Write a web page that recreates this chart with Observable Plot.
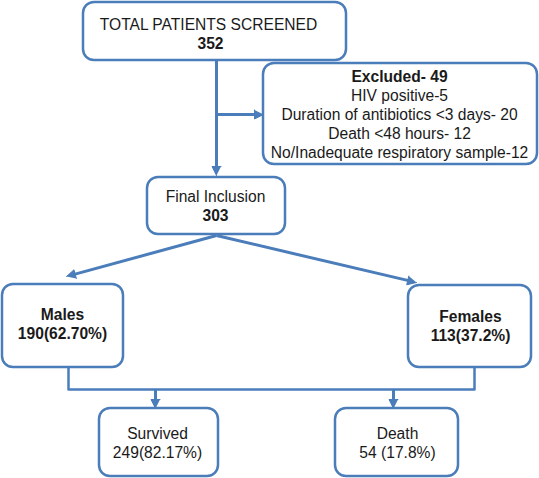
<!DOCTYPE html>
<html>
<head>
<meta charset="utf-8">
<script src="https://cdn.jsdelivr.net/npm/d3@7"></script>
<script src="https://cdn.jsdelivr.net/npm/@observablehq/plot@0.6"></script>
<style>
  html, body { margin: 0; padding: 0; background: #ffffff; }
  #chart svg { display: block; }
</style>
</head>
<body>
<div id="chart"></div>
<script>
// ---- Data (text content of the flow chart) ----
const nodeIds = ["screened", "excluded", "included", "males", "females", "survived", "death"];
const nodeHeadings = ["TOTAL PATIENTS SCREENED", "Excluded- 49", "Final Inclusion", "Males", "Females", "Survived", "Death"];
const nodeValues = ["352", null, "303", "190(62.70%)", "113(37.2%)", "249(82.17%)", "54 (17.8%)"];
const exclusionLabels = ["HIV positive-5", "Duration of antibiotics <3 days- 20", "Death <48 hours- 12", "No/Inadequate respiratory sample-12"];
const headingBold = [false, true, false, true, true, false, false];
const valueBold = [true, false, true, true, true, false, false];

// ---- Layout (diagram geometry, in pixel units of the plot's x/y scales) ----
const W = 539, H = 478;
const boxLayout = {
  screened: {x1: 83, x2: 346, y1: 2, y2: 60, tx: [208, 210], ty: 24},
  excluded: {x1: 263, x2: 537, y1: 63, y2: 164, tx: [399, 399], ty: 76},
  included: {x1: 147, x2: 285, y1: 177, y2: 234, tx: [215, 215], ty: 196},
  males:    {x1: 2, x2: 123, y1: 284, y2: 367, tx: [62, 62], ty: 314},
  females:  {x1: 408, x2: 531, y1: 285, y2: 367, tx: [470, 470], ty: 316},
  survived: {x1: 99, x2: 218, y1: 408, y2: 476, tx: [157, 157], ty: 433},
  death:    {x1: 335, x2: 458, y1: 408, y2: 476, tx: [397, 397], ty: 433}
};
const arrowLayout = [
  {x1: 216, y1: 60, x2: 216, y2: 175},
  {x1: 216, y1: 114, x2: 263, y2: 114},
  {x1: 216, y1: 235, x2: 66, y2: 276},
  {x1: 216, y1: 235, x2: 416, y2: 282},
  {x1: 155, y1: 389, x2: 155, y2: 408},
  {x1: 393, y1: 389, x2: 393, y2: 408}
];
const connectorLayout = [
  {x: 68, y: 367}, {x: 68, y: 389}, {x: 474, y: 389}, {x: 474, y: 367}
];
const lineGap = 19;

// ---- Build tables for the marks ----
const boxes = nodeIds.map(id => ({id, ...boxLayout[id]}));

const textRows = [];
nodeIds.forEach((id, i) => {
  const L = boxLayout[id];
  textRows.push({x: L.tx[0], y: L.ty, text: nodeHeadings[i], bold: headingBold[i]});
  if (id === "excluded") {
    exclusionLabels.forEach((t, j) => textRows.push({x: L.tx[1], y: L.ty + (j + 1) * lineGap, text: t, bold: false}));
  } else if (nodeValues[i] != null) {
    textRows.push({x: L.tx[1], y: L.ty + lineGap, text: nodeValues[i], bold: valueBold[i]});
  }
});

const headLen = 9, headHalf = 4.5;
const shafts = [], heads = [];
arrowLayout.forEach((a, k) => {
  const dx = a.x2 - a.x1, dy = a.y2 - a.y1, len = Math.hypot(dx, dy);
  const ux = dx / len, uy = dy / len, nx = -uy, ny = ux;
  const bx = a.x2 - ux * headLen, by = a.y2 - uy * headLen;
  shafts.push({x1: a.x1, y1: a.y1, x2: bx + ux * 2, y2: by + uy * 2});
  heads.push({id: k, x: a.x2, y: a.y2});
  heads.push({id: k, x: bx + nx * headHalf, y: by + ny * headHalf});
  heads.push({id: k, x: bx - nx * headHalf, y: by - ny * headHalf});
});

const blue = "#4a7dba";
const ink = "#1a1a1a";
const font = "'Liberation Sans', Arial, sans-serif";
const fs = 15.6;

const chart = Plot.plot({
  width: W,
  height: H,
  margin: 0,
  x: {domain: [0, W], range: [0, W], axis: null},
  y: {domain: [0, H], range: [0, H], axis: null},
  style: {background: "#ffffff", fontFamily: font},
  marks: [
    Plot.line(connectorLayout, {x: "x", y: "y", stroke: blue, strokeWidth: 2.5, curve: "linear"}),
    Plot.link(shafts, {x1: "x1", y1: "y1", x2: "x2", y2: "y2", stroke: blue, strokeWidth: 3}),
    Plot.line(heads, {x: "x", y: "y", z: "id", fill: blue, stroke: blue, strokeWidth: 1, strokeLinejoin: "miter"}),
    Plot.rect(boxes, {x1: "x1", x2: "x2", y1: "y1", y2: "y2", rx: 11, ry: 11, fill: "#ffffff", stroke: blue, strokeWidth: 2.5}),
    Plot.text(textRows.filter(d => !d.bold), {x: "x", y: "y", text: "text", fill: ink, fontSize: fs, fontFamily: font, textAnchor: "middle"}),
    Plot.text(textRows.filter(d => d.bold), {x: "x", y: "y", text: "text", fill: ink, fontSize: fs, fontFamily: font, fontWeight: "bold", textAnchor: "middle"})
  ]
});
document.getElementById("chart").appendChild(chart);
</script>
</body>
</html>
